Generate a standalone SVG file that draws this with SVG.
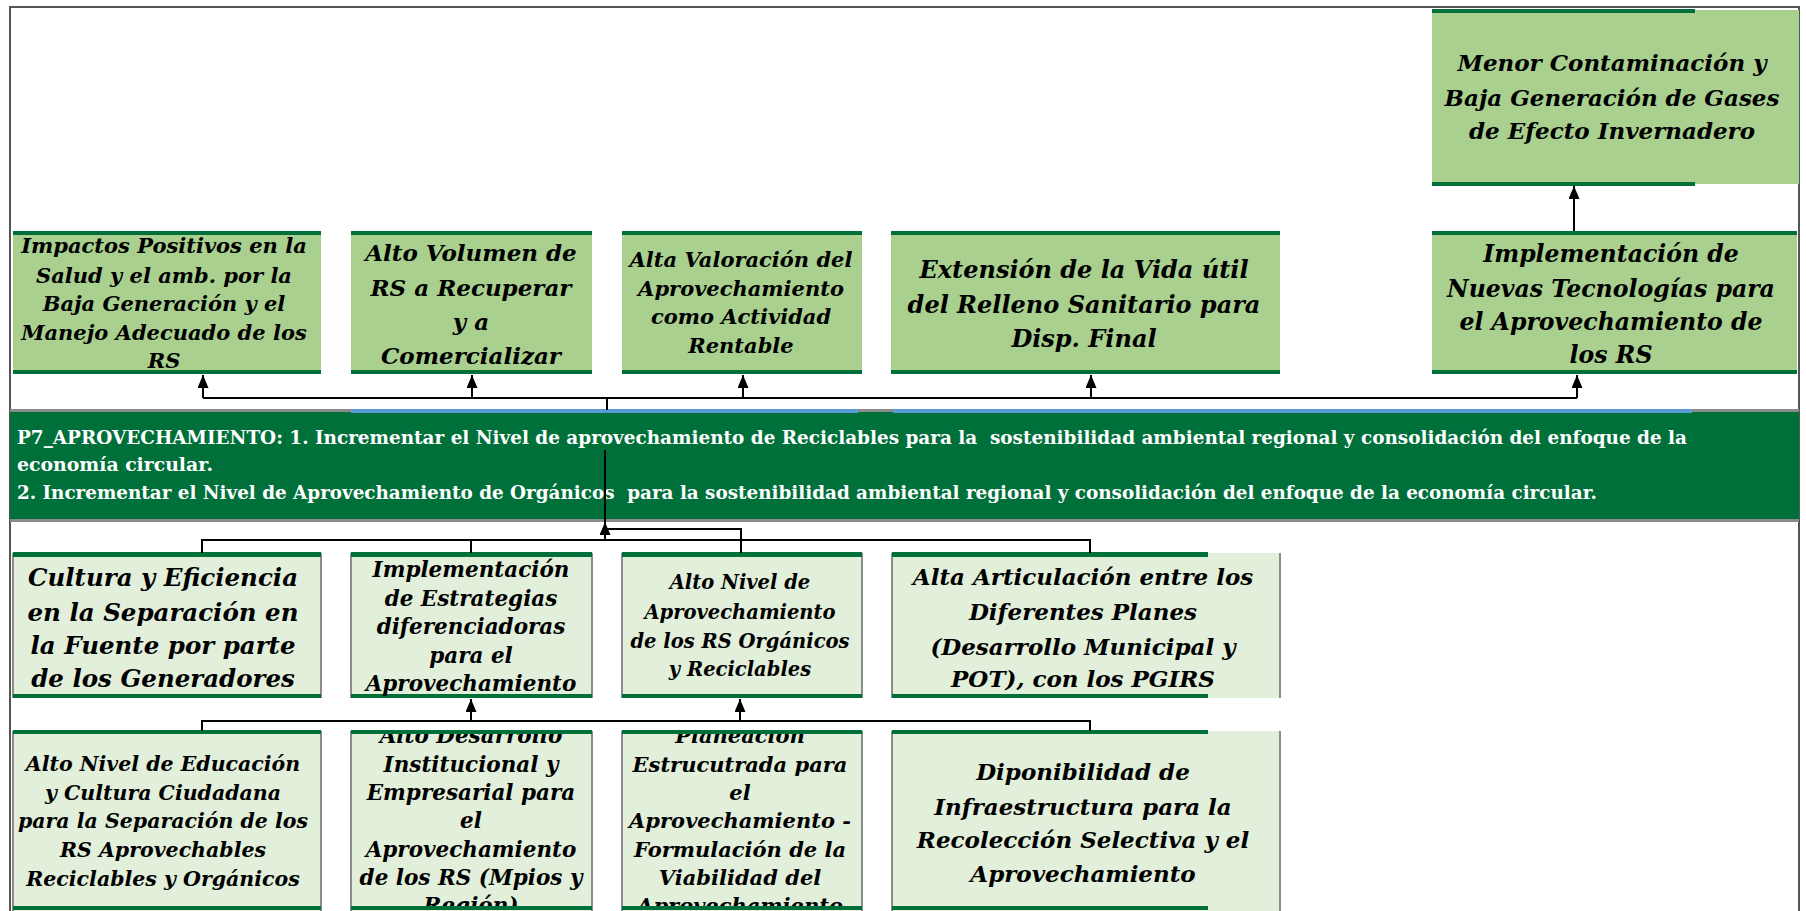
<svg xmlns="http://www.w3.org/2000/svg" width="1806" height="911" viewBox="0 0 1806 911">
<style>
.up{fill:#A9D08E}
.lo{fill:#E2EFDA}
.bar{fill:#00703A}
.side{stroke:#8C8C8C;stroke-width:2}
.t{font-family:"DejaVu Serif","Liberation Serif",serif;font-weight:bold;font-style:italic;fill:#000;text-anchor:middle}
.big{font-size:23px}
.sm{font-size:19.5px}
.bt{font-family:"DejaVu Serif","Liberation Serif",serif;font-weight:bold;fill:#fff;font-size:18px}
.ln{stroke:#000;stroke-width:2;fill:none}
</style>
<defs>
<marker id="ah" viewBox="0 0 13 11" refX="13" refY="5.5" markerWidth="13" markerHeight="11" markerUnits="userSpaceOnUse" orient="auto">
<path d="M0,0 L13,5.5 L0,11 z" fill="#000"/>
</marker>
<clipPath id="cb3"><rect x="351" y="734" width="241" height="172"/></clipPath>
<clipPath id="cc3"><rect x="622" y="734" width="240" height="172"/></clipPath>
</defs>
<rect x="0" y="0" width="1806" height="911" fill="#fff"/>
<rect x="10" y="7" width="1789" height="920" fill="none" stroke="#555" stroke-width="2"/>

<g id="band">
<rect x="10" y="411" width="1789" height="109" fill="#00703A"/>
<rect x="10" y="409" width="1789" height="3" fill="#8C8C8C"/>
<rect x="10" y="519" width="1789" height="3" fill="#8C8C8C"/>
<rect x="351" y="409" width="507" height="4" fill="#5B9BD5"/>
<rect x="893" y="409" width="799" height="4" fill="#5B9BD5"/>
<text class="bt" xml:space="preserve" x="17" y="444" textLength="1670" lengthAdjust="spacingAndGlyphs">P7_APROVECHAMIENTO: 1. Incrementar el Nivel de aprovechamiento de Reciclables para la  sostenibilidad ambiental regional y consolidación del enfoque de la</text>
<text class="bt" x="17" y="471" textLength="196" lengthAdjust="spacingAndGlyphs">economía circular.</text>
<text class="bt" xml:space="preserve" x="17" y="499" textLength="1580" lengthAdjust="spacingAndGlyphs">2. Incrementar el Nivel de Aprovechamiento de Orgánicos  para la sostenibilidad ambiental regional y consolidación del enfoque de la economía circular.</text>
</g>

<g id="n_menor">
<rect class="up" x="1432" y="10" width="367" height="174"/>
<rect class="bar" x="1432" y="9" width="263" height="4"/>
<rect class="bar" x="1432" y="182" width="263" height="4"/>
<text class="t big"><tspan x="1612" y="71">Menor Contaminación y</tspan><tspan x="1612" y="106">Baja Generación de Gases</tspan><tspan x="1612" y="139">de Efecto Invernadero</tspan></text>
</g>

<g id="n_nuevas">
<rect class="up" x="1432" y="232" width="365" height="142"/>
<rect class="bar" x="1432" y="231" width="365" height="4"/>
<rect class="bar" x="1432" y="370" width="365" height="4"/>
<text class="t" font-size="23.6"><tspan x="1611" y="262">Implementación de</tspan><tspan x="1611" y="297">Nuevas Tecnologías para</tspan><tspan x="1611" y="330">el Aprovechamiento de</tspan><tspan x="1611" y="363">los RS</tspan></text>
</g>

<g id="n_impactos">
<rect class="up" x="13" y="232" width="308" height="142"/>
<rect class="bar" x="13" y="231" width="308" height="4"/>
<rect class="bar" x="13" y="370" width="308" height="4"/>
<text class="t" font-size="21"><tspan x="164" y="253">Impactos Positivos en la</tspan><tspan x="164" y="283">Salud y el amb. por la</tspan><tspan x="164" y="311">Baja Generación y el</tspan><tspan x="164" y="340">Manejo Adecuado de los</tspan><tspan x="164" y="368">RS</tspan></text>
</g>

<g id="n_volumen">
<rect class="up" x="351" y="232" width="241" height="142"/>
<rect class="bar" x="351" y="231" width="241" height="4"/>
<rect class="bar" x="351" y="370" width="241" height="4"/>
<text class="t big"><tspan x="471" y="261">Alto Volumen de</tspan><tspan x="471" y="296">RS a Recuperar</tspan><tspan x="471" y="330">y a</tspan><tspan x="471" y="364">Comercializar</tspan></text>
</g>

<g id="n_valoracion">
<rect class="up" x="622" y="232" width="240" height="142"/>
<rect class="bar" x="622" y="231" width="240" height="4"/>
<rect class="bar" x="622" y="370" width="240" height="4"/>
<text class="t" font-size="21"><tspan x="741" y="267">Alta Valoración del</tspan><tspan x="741" y="296">Aprovechamiento</tspan><tspan x="741" y="324">como Actividad</tspan><tspan x="741" y="353">Rentable</tspan></text>
</g>

<g id="n_extension">
<rect class="up" x="891" y="232" width="389" height="142"/>
<rect class="bar" x="891" y="231" width="389" height="4"/>
<rect class="bar" x="891" y="370" width="389" height="4"/>
<text class="t" font-size="24"><tspan x="1084" y="278">Extensión de la Vida útil</tspan><tspan x="1084" y="313">del Relleno Sanitario para</tspan><tspan x="1084" y="347">Disp. Final</tspan></text>
</g>

<g id="n_cultura">
<rect class="lo" x="13" y="553" width="308" height="145"/>
<line class="side" x1="13" y1="553" x2="13" y2="698"/><line class="side" x1="321" y1="553" x2="321" y2="698"/>
<rect class="bar" x="13" y="552" width="308" height="5"/>
<rect class="bar" x="13" y="694" width="308" height="4"/>
<text class="t" font-size="24.5"><tspan x="163" y="586">Cultura y Eficiencia</tspan><tspan x="163" y="621">en la Separación en</tspan><tspan x="163" y="654">la Fuente por parte</tspan><tspan x="163" y="687">de los Generadores</tspan></text>
</g>

<g id="n_estrategias">
<rect class="lo" x="351" y="553" width="241" height="145"/>
<line class="side" x1="351" y1="553" x2="351" y2="698"/><line class="side" x1="592" y1="553" x2="592" y2="698"/>
<rect class="bar" x="351" y="552" width="241" height="5"/>
<rect class="bar" x="351" y="694" width="241" height="4"/>
<text class="t" font-size="21.5"><tspan x="471" y="577">Implementación</tspan><tspan x="471" y="606">de Estrategias</tspan><tspan x="471" y="634">diferenciadoras</tspan><tspan x="471" y="663">para el</tspan><tspan x="471" y="691">Aprovechamiento</tspan></text>
</g>

<g id="n_organicos">
<rect class="lo" x="622" y="553" width="240" height="145"/>
<line class="side" x1="622" y1="553" x2="622" y2="698"/><line class="side" x1="862" y1="553" x2="862" y2="698"/>
<rect class="bar" x="622" y="552" width="240" height="5"/>
<rect class="bar" x="622" y="694" width="240" height="4"/>
<text class="t sm"><tspan x="740" y="589">Alto Nivel de</tspan><tspan x="740" y="619">Aprovechamiento</tspan><tspan x="740" y="648">de los RS Orgánicos</tspan><tspan x="740" y="676">y Reciclables</tspan></text>
</g>

<g id="n_articulacion">
<rect class="lo" x="892" y="553" width="388" height="145"/>
<line class="side" x1="892" y1="553" x2="892" y2="698"/><line class="side" x1="1280" y1="553" x2="1280" y2="698"/>
<rect class="bar" x="892" y="552" width="316" height="5"/>
<rect class="bar" x="892" y="694" width="316" height="4"/>
<text class="t big"><tspan x="1083" y="585">Alta Articulación entre los</tspan><tspan x="1083" y="620">Diferentes Planes</tspan><tspan x="1083" y="655">(Desarrollo Municipal y</tspan><tspan x="1083" y="687">POT), con los PGIRS</tspan></text>
</g>

<g id="n_educacion">
<rect class="lo" x="13" y="731" width="308" height="180"/>
<line class="side" x1="13" y1="731" x2="13" y2="911"/><line class="side" x1="321" y1="731" x2="321" y2="911"/>
<rect class="bar" x="13" y="730" width="308" height="4"/>
<rect class="bar" x="13" y="906" width="308" height="4"/>
<text class="t" font-size="20.5"><tspan x="163" y="771">Alto Nivel de Educación</tspan><tspan x="163" y="800">y Cultura Ciudadana</tspan><tspan x="163" y="828">para la Separación de los</tspan><tspan x="163" y="857">RS Aprovechables</tspan><tspan x="163" y="886">Reciclables y Orgánicos</tspan></text>
</g>

<g id="n_institucional">
<rect class="lo" x="351" y="731" width="241" height="180"/>
<line class="side" x1="351" y1="731" x2="351" y2="911"/><line class="side" x1="592" y1="731" x2="592" y2="911"/>
<g clip-path="url(#cb3)">
<text class="t" font-size="21.5"><tspan x="471" y="743">Alto Desarrollo</tspan><tspan x="471" y="772">Institucional y</tspan><tspan x="471" y="800">Empresarial para</tspan><tspan x="471" y="828">el</tspan><tspan x="471" y="857">Aprovechamiento</tspan><tspan x="471" y="885">de los RS (Mpios y</tspan><tspan x="471" y="913">Región)</tspan></text>
</g>
<rect class="bar" x="351" y="730" width="241" height="4"/>
<rect class="bar" x="351" y="906" width="241" height="4"/>
</g>

<g id="n_planeacion">
<rect class="lo" x="622" y="731" width="240" height="180"/>
<line class="side" x1="622" y1="731" x2="622" y2="911"/><line class="side" x1="862" y1="731" x2="862" y2="911"/>
<g clip-path="url(#cc3)">
<text class="t" font-size="21"><tspan x="740" y="743">Planeación</tspan><tspan x="740" y="772">Estrucutrada para</tspan><tspan x="740" y="800">el</tspan><tspan x="740" y="828">Aprovechamiento -</tspan><tspan x="740" y="857">Formulación de la</tspan><tspan x="740" y="885">Viabilidad del</tspan><tspan x="740" y="913">Aprovechamiento</tspan></text>
</g>
<rect class="bar" x="622" y="730" width="240" height="4"/>
<rect class="bar" x="622" y="906" width="240" height="4"/>
</g>

<g id="n_infraestructura">
<rect class="lo" x="892" y="731" width="388" height="180"/>
<line class="side" x1="892" y1="731" x2="892" y2="911"/><line class="side" x1="1280" y1="731" x2="1280" y2="911"/>
<rect class="bar" x="892" y="730" width="316" height="4"/>
<rect class="bar" x="892" y="906" width="316" height="4"/>
<text class="t big"><tspan x="1083" y="780">Diponibilidad de</tspan><tspan x="1083" y="815">Infraestructura para la</tspan><tspan x="1083" y="848">Recolección Selectiva y el</tspan><tspan x="1083" y="882">Aprovechamiento</tspan></text>
</g>

<g id="connectors">
<path class="ln" d="M203,398 H1577"/>
<path class="ln" d="M607,398 V410"/>
<path class="ln" d="M203,398 V375" marker-end="url(#ah)"/>
<path class="ln" d="M472,398 V375" marker-end="url(#ah)"/>
<path class="ln" d="M743,398 V375" marker-end="url(#ah)"/>
<path class="ln" d="M1091,398 V375" marker-end="url(#ah)"/>
<path class="ln" d="M1577,398 V375" marker-end="url(#ah)"/>
<path class="ln" d="M1574,231 V186" marker-end="url(#ah)"/>
<path class="ln" d="M202,553 V540 H1090 V553"/>
<path class="ln" d="M471,540 V553"/>
<path class="ln" d="M605,529 H741 V553"/>
<path class="ln" d="M605,540 V522" marker-end="url(#ah)"/>
<path class="ln" d="M605,522 V450"/>
<path class="ln" d="M202,731 V721 H1090 V731"/>
<path class="ln" d="M471,721 V699" marker-end="url(#ah)"/>
<path class="ln" d="M740,721 V699" marker-end="url(#ah)"/>
</g>
</svg>
